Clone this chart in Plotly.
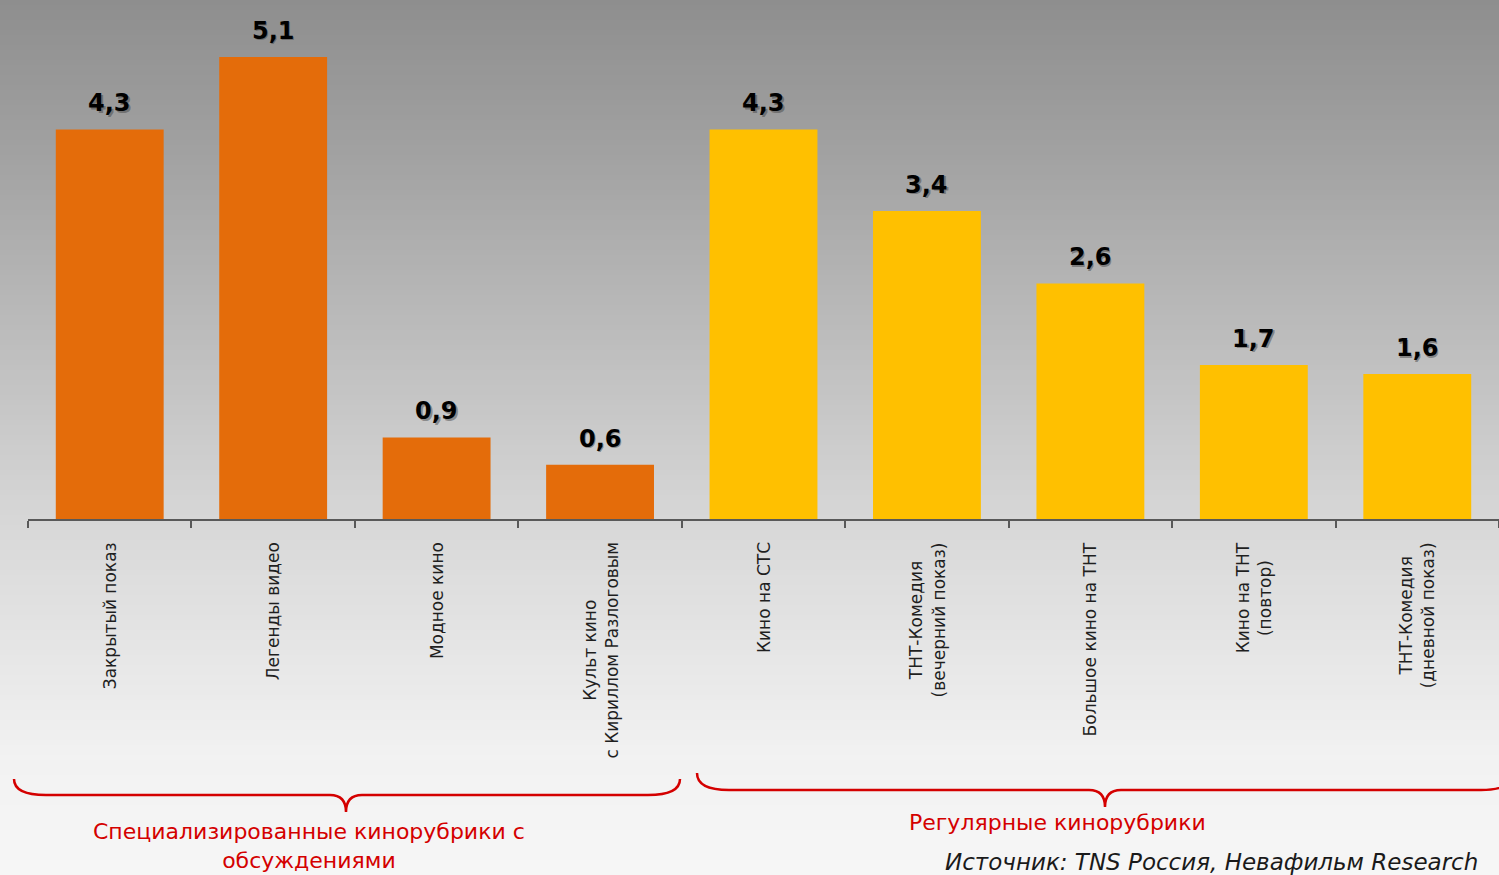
import plotly.graph_objects as go

# ---------------- data ----------------
categories = [
    "Закрытый показ",
    "Легенды видео",
    "Модное кино",
    "Культ кино<br>с Кириллом Разлоговым",
    "Кино на СТС",
    "ТНТ-Комедия<br>(вечерний показ)",
    "Большое кино на ТНТ",
    "Кино на ТНТ<br>(повтор)",
    "ТНТ-Комедия<br>(дневной показ)",
]
values = [4.3, 5.1, 0.9, 0.6, 4.3, 3.4, 2.6, 1.7, 1.6]
value_labels = ["4,3", "5,1", "0,9", "0,6", "4,3", "3,4", "2,6", "1,7", "1,6"]
group_of = [0, 0, 0, 0, 1, 1, 1, 1, 1]
group_names = ["Специализированные кинорубрики с<br>обсуждениями", "Регулярные кинорубрики"]
source_text = "Источник: TNS Россия, Невафильм Research"

# ---------------- style ----------------
W, H = 1499, 875
L, R, T, B = 28, 0, 0, 356
PW, PH = W - L - R, H - T - B
group_colors = ["#E46C0A", "#FFC000"]
RED = "#D40000"
YMAX = 519 / 90.6


def xp(px):
    return (px - L) / PW


def yp(py):
    return (H - B - py) / PH


fig = go.Figure()
fig.add_trace(go.Bar(
    x=categories, y=values,
    marker=dict(color=[group_colors[g] for g in group_of], line=dict(width=0)),
    hoverinfo="skip", showlegend=False,
))

shapes = []
# background vertical gradient
stops = [(0, 142), (150, 161), (519, 215), (760, 242), (875, 246)]


def grey_at(py):
    for (a, ca), (b, cb) in zip(stops[:-1], stops[1:]):
        if a <= py <= b:
            return ca + (cb - ca) * (py - a) / (b - a)
    return stops[-1][1]


step = 5
for py in range(0, H, step):
    g = int(round(grey_at(py + step / 2)))
    shapes.append(dict(
        type="rect", xref="paper", yref="paper", layer="below",
        x0=xp(0), x1=xp(W), y0=yp(py + step + 1), y1=yp(py),
        fillcolor=f"rgb({g},{g},{g})", line=dict(width=0),
    ))


def brace(x0, x1, xm, ytop, yline, ytip, curl=32, mid=16):
    p = (f"M {xp(x0)},{yp(ytop)} Q {xp(x0)},{yp(yline)} {xp(x0 + curl)},{yp(yline)} "
         f"L {xp(xm - mid)},{yp(yline)} Q {xp(xm)},{yp(yline)} {xp(xm)},{yp(ytip)} "
         f"Q {xp(xm)},{yp(yline)} {xp(xm + mid)},{yp(yline)} "
         f"L {xp(x1 - curl)},{yp(yline)} Q {xp(x1)},{yp(yline)} {xp(x1)},{yp(ytop)}")
    return dict(type="path", xref="paper", yref="paper", path=p,
                line=dict(color=RED, width=2.5), layer="above")


shapes.append(brace(14, 680, 346, 779, 795, 812))
shapes.append(brace(697, 1513, 1105, 773, 790, 807))

annotations = []
for c, v, t in zip(categories, values, value_labels):
    annotations.append(dict(
        x=c, y=v, xref="x", yref="y", text=f"<b>{t}</b>", showarrow=False,
        yanchor="bottom", yshift=8.5, xshift=1.5,
        font=dict(family="DejaVu Sans", size=24, color="rgba(60,60,60,0.45)")))
    annotations.append(dict(
        x=c, y=v, xref="x", yref="y", text=f"<b>{t}</b>", showarrow=False,
        yanchor="bottom", yshift=10,
        font=dict(family="DejaVu Sans", size=24, color="#000000")))

for c in categories:
    annotations.append(dict(
        x=c, y=yp(540), xref="x", yref="paper", text=c, showarrow=False,
        textangle=-90, yanchor="top", xanchor="center", align="center",
        font=dict(family="DejaVu Sans", size=17, color="#1f1f1f")))

group_x = [309, 1057]
group_y = [817, 808]
for name, gx, gy in zip(group_names, group_x, group_y):
    annotations.append(dict(
        x=xp(gx), y=yp(gy), xref="paper", yref="paper", text=name, showarrow=False,
        xanchor="center", yanchor="top", align="center",
        font=dict(family="DejaVu Sans", size=22, color=RED)))

annotations.append(dict(
    x=xp(943), y=yp(847), xref="paper", yref="paper", text=f"<i>{source_text}</i>",
    showarrow=False, xanchor="left", yanchor="top", align="left",
    font=dict(family="DejaVu Sans", size=23, color="#1a1a1a")))

fig.update_layout(
    width=W, height=H,
    margin=dict(l=L, r=R, t=T, b=B, pad=0),
    paper_bgcolor="rgb(246,246,246)", plot_bgcolor="rgba(0,0,0,0)",
    bargap=0.34,
    shapes=shapes, annotations=annotations,
    xaxis=dict(showticklabels=False, showline=True, linecolor="#595959", linewidth=2,
               ticks="outside", tickson="boundaries", ticklen=7, tickwidth=1.5,
               tickcolor="#595959", showgrid=False, zeroline=False, fixedrange=True),
    yaxis=dict(visible=False, range=[0, YMAX], showgrid=False, zeroline=False, fixedrange=True),
)

fig.write_html("out.html", config={"displayModeBar": False},
               post_script="document.body.style.margin='0';document.body.style.overflow='hidden';")
